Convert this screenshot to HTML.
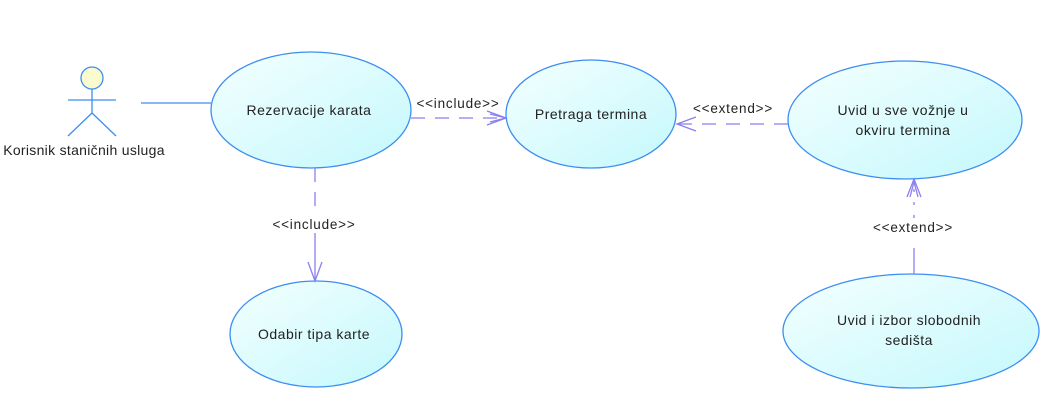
<!DOCTYPE html>
<html><head><meta charset="utf-8"><style>
html,body{margin:0;padding:0;background:#fff;}
svg{display:block;}
text{font-family:"Liberation Sans",sans-serif;fill:#222;}
</style></head><body>
<svg width="1048" height="411" viewBox="0 0 1048 411">
<defs>
<linearGradient id="g" x1="0" y1="0" x2="1" y2="1">
<stop offset="0" stop-color="#f4ffff"/><stop offset="1" stop-color="#c4f8fc"/>
</linearGradient>
</defs>
<g stroke="#3d8ef0" stroke-width="1.3" fill="url(#g)">
<ellipse cx="311" cy="110" rx="100" ry="58"/>
<ellipse cx="591" cy="114" rx="85" ry="54"/>
<ellipse cx="905" cy="120" rx="117" ry="59"/>
<ellipse cx="316" cy="334" rx="86" ry="53"/>
<ellipse cx="911" cy="331" rx="128" ry="57"/>
</g>
<g stroke="#3d8ef0" stroke-width="1.3" fill="none">
<circle cx="92" cy="78" r="11" fill="#fbfbd0"/>
<line x1="92" y1="89" x2="92" y2="113"/>
<line x1="68" y1="100" x2="116" y2="100"/>
<line x1="92" y1="113" x2="68" y2="136"/>
<line x1="92" y1="113" x2="116" y2="136"/>
<line x1="141" y1="103" x2="211" y2="103"/>
</g>
<text x="84" y="155" font-size="14" letter-spacing="0.3" text-anchor="middle">Korisnik staničnih usluga</text>
<g stroke="#8a7ff0" stroke-width="1.3" fill="none">
<line x1="411" y1="118" x2="505" y2="118" stroke-dasharray="14,10"/>
<polyline points="487,111 506,118 487,125"/>
<polyline points="490,114 506,118 490,122"/>
<line x1="788" y1="124" x2="678" y2="124" stroke-dasharray="14,10"/>
<polyline points="696,117 677,124 696,131"/>
<line x1="315" y1="168" x2="315" y2="213" stroke-dasharray="14,10"/>
<line x1="315" y1="233" x2="315" y2="280"/>
<polyline points="308,262 315,281 322,262"/>
<line x1="914" y1="274" x2="914" y2="248"/>
<line x1="914" y1="218" x2="914" y2="180" stroke-dasharray="3,10"/>
<polyline points="907,197 914,179 921,197"/>
<polyline points="910,197 914,182 918,197"/>
</g>
<g font-size="13.5" letter-spacing="0.8" text-anchor="middle">
<text x="458" y="108">&lt;&lt;include&gt;&gt;</text>
<text x="733" y="113">&lt;&lt;extend&gt;&gt;</text>
<text x="314" y="229">&lt;&lt;include&gt;&gt;</text>
<text x="913" y="232">&lt;&lt;extend&gt;&gt;</text>
</g>
<g font-size="14" letter-spacing="0.5" text-anchor="middle">
<text x="309" y="115">Rezervacije karata</text>
<text x="591" y="119">Pretraga termina</text>
<text x="903" y="115">Uvid u sve vožnje u</text>
<text x="903" y="135">okviru termina</text>
<text x="314" y="339">Odabir tipa karte</text>
<text x="909" y="325">Uvid i izbor slobodnih</text>
<text x="909" y="345">sedišta</text>
</g>
</svg>
</body></html>
